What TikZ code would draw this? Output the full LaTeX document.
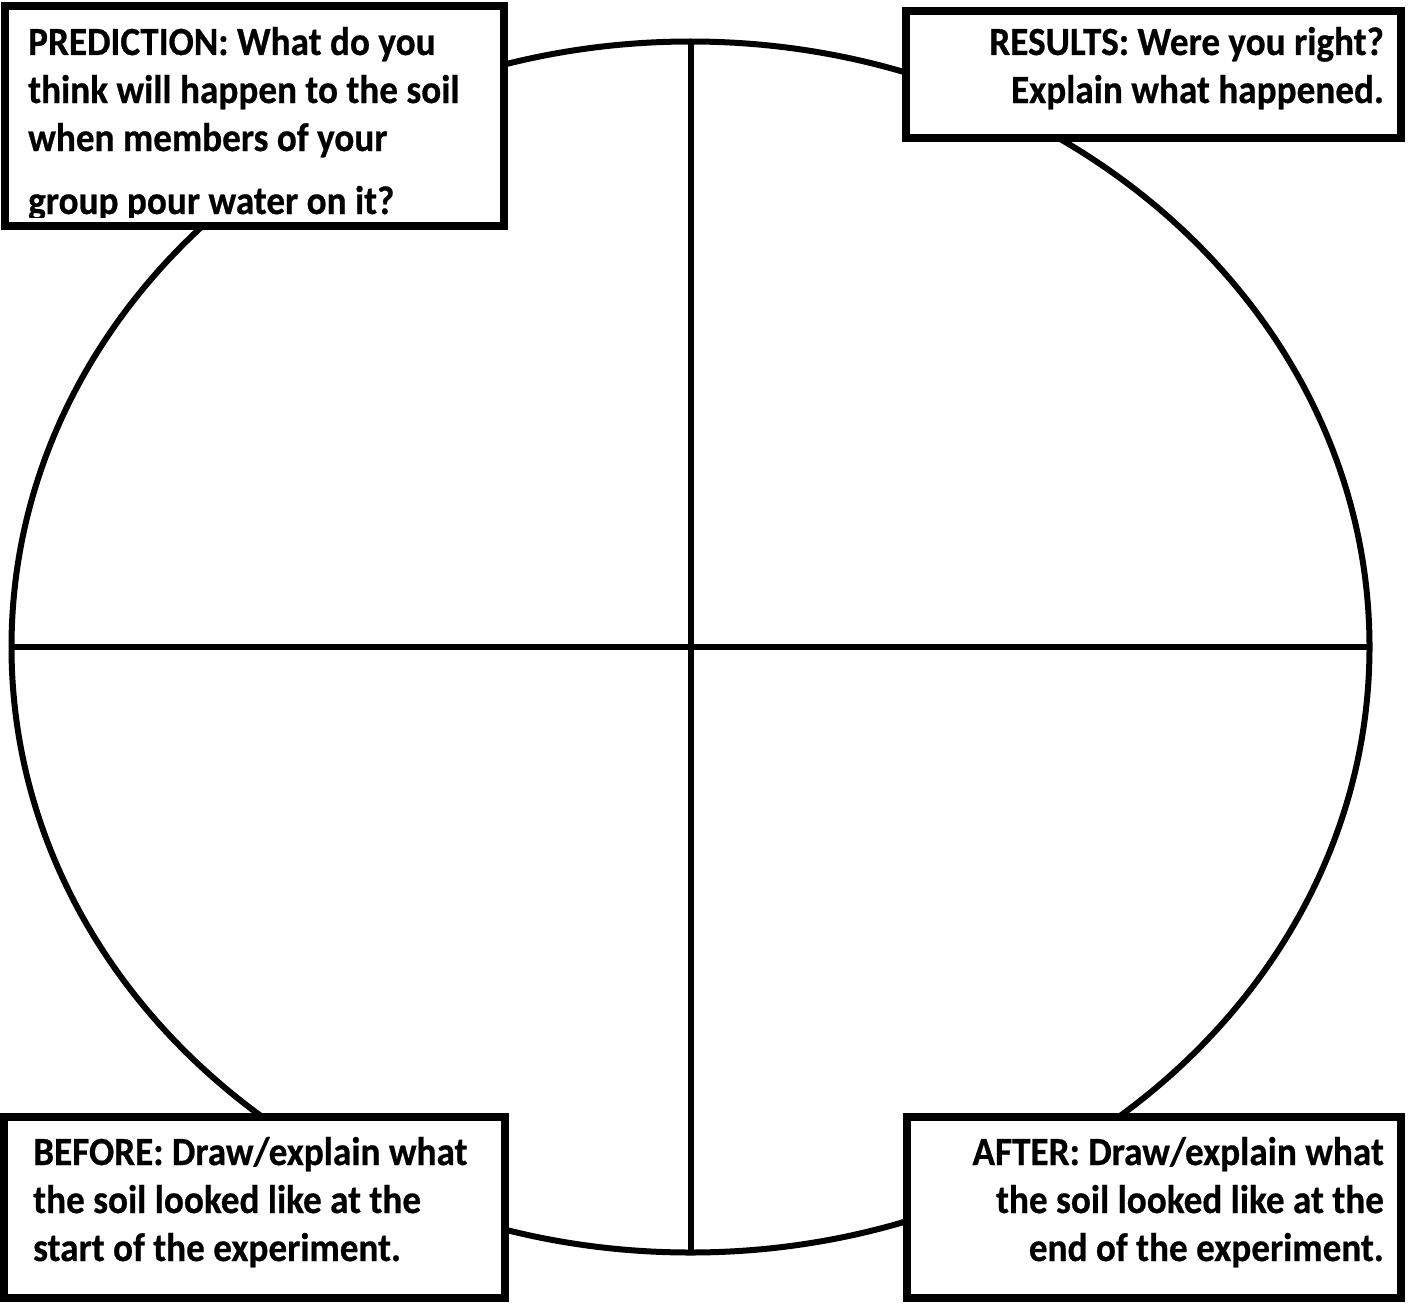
\documentclass[tikz,border=0pt]{standalone}
\usepackage{fontspec}
\setmainfont{Carlito}[BoldFeatures={FakeBold=0.6}]
\usetikzlibrary{shapes.geometric}
\tikzset{
  ring/.style={ellipse, draw=black, line width=6pt, inner sep=0pt, outer sep=0pt},
  axis/.style={draw=black, line width=6pt},
  qbox/.style={rectangle, draw=black, fill=white, line width=8pt, inner sep=0pt, outer sep=0pt},
  lbl/.style={inner sep=0pt, font=\fontsize{40}{47}\selectfont\bfseries}
}
\newcommand{\sq}[1]{\scalebox{0.93}[1]{#1}}
\begin{document}
\begin{tikzpicture}[x=1pt, y=-1pt]
\useasboundingbox (0,0) rectangle (1415,1303);
\fill[white] (0,0) rectangle (1415,1303);
\node[ring, minimum width=1358pt, minimum height=1211pt] (circ) at (690.5,647) {};
\draw[axis] (circ.north) -- (circ.south);
\draw[axis] (circ.west) -- (circ.east);
% boxes
\node[qbox, minimum width=499pt, minimum height=220pt] (pred) at (254.5,116) {};
\node[qbox, minimum width=495pt, minimum height=127pt] (res) at (1153.5,74.5) {};
\node[qbox, minimum width=501pt, minimum height=181pt] (bef) at (254.5,1207.5) {};
\node[qbox, minimum width=494pt, minimum height=181pt] (aft) at (1154,1207.5) {};
% prediction text
\begin{scope}
\clip (9,10) rectangle (500,217);
\node[lbl, anchor=base west] (p1) at (28,55) {\sq{PREDICTION: What do you}};
\node[lbl, anchor=base west] (p2) at (28,103) {\sq{think will happen to the soil}};
\node[lbl, anchor=base west] (p3) at (28,151) {\sq{when members of your}};
\node[lbl, anchor=base west] (p4) at (28,214) {\sq{group pour water on it?}};
\end{scope}
% results text
\node[lbl, anchor=base east] (r1) at (1384,55) {\sq{RESULTS: Were you right?}};
\node[lbl, anchor=base east] (r2) at (1384,103) {\sq{Explain what happened.}};
% before text
\node[lbl, anchor=base west] (b1) at (33,1165) {\sq{BEFORE: Draw/explain what}};
\node[lbl, anchor=base west] (b2) at (33,1213) {\sq{the soil looked like at the}};
\node[lbl, anchor=base west] (b3) at (33,1261) {\sq{start of the experiment.}};
% after text
\node[lbl, anchor=base east] (a1) at (1384,1165) {\sq{AFTER: Draw/explain what}};
\node[lbl, anchor=base east] (a2) at (1384,1213) {\sq{the soil looked like at the}};
\node[lbl, anchor=base east] (a3) at (1384,1261) {\sq{end of the experiment.}};
\end{tikzpicture}
\end{document}
